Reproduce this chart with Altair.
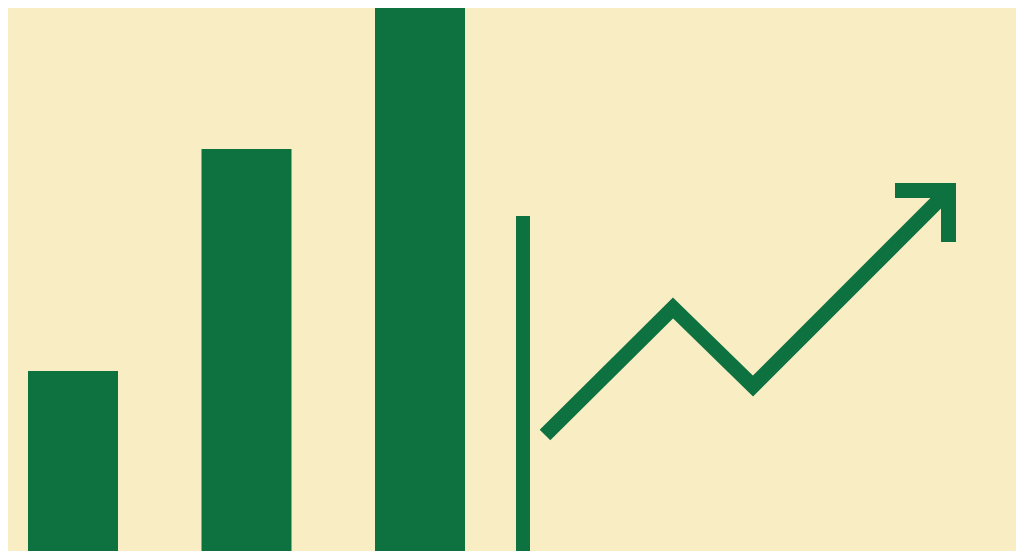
import altair as alt
import pandas as pd

# ---- data ----
bar_labels = ["Q1", "Q2", "Q3"]
bar_values = [188, 410, 580]

divider_x = [523]
divider_top = [343]

trend_x = [545, 673, 753, 948.5]
trend_y = [124, 251, 173, 368.5]

head_x = [895, 948.5, 948.5]
head_y = [368.5, 368.5, 317]

# ---- styling ----
GREEN = "#0D7140"
BG = "#F9EDC4"
W, H = 1008, 543
x_dom = [8, 1016]
y_dom = [551 - H, 551]

xs = alt.Scale(domain=x_dom, nice=False, zero=False)
ys = alt.Scale(domain=y_dom, nice=False, zero=False)

bars_df = pd.DataFrame({"label": bar_labels, "value": bar_values})
div_df = pd.DataFrame({"x": divider_x, "top": divider_top})
trend_df = pd.DataFrame({"x": trend_x, "y": trend_y, "i": range(len(trend_x))})
head_df = pd.DataFrame({"x": head_x, "y": head_y, "i": range(len(head_x))})

bars = alt.Chart(bars_df).mark_bar(color=GREEN, clip=True).encode(
    x=alt.X("label:N", sort=bar_labels, axis=None,
            scale=alt.Scale(domain=bar_labels, range=[20, 457],
                            paddingInner=0.4813, paddingOuter=0)),
    y=alt.Y("value:Q", scale=ys, axis=None),
    y2=alt.datum(0),
)

divider = alt.Chart(div_df).mark_rule(color=GREEN, strokeWidth=14, clip=True).encode(
    x=alt.X("x:Q", scale=xs, axis=None),
    y=alt.Y("top:Q", scale=ys, axis=None),
    y2=alt.datum(0),
)

trend = alt.Chart(trend_df).mark_line(
    color=GREEN, strokeWidth=15, strokeJoin="miter", strokeCap="butt", strokeMiterLimit=10
).encode(
    x=alt.X("x:Q", scale=xs, axis=None),
    y=alt.Y("y:Q", scale=ys, axis=None),
    order="i:Q",
)

head = alt.Chart(head_df).mark_line(
    color=GREEN, strokeWidth=15, strokeJoin="miter", strokeCap="butt", strokeMiterLimit=10
).encode(
    x=alt.X("x:Q", scale=xs, axis=None),
    y=alt.Y("y:Q", scale=ys, axis=None),
    order="i:Q",
)

chart = (
    alt.layer(bars, divider, trend, head)
    .resolve_scale(x="independent")
    .properties(width=W, height=H, padding=0, background=BG,
                autosize=alt.AutoSizeParams(type="none"))
    .configure_view(stroke=None)
)

chart.save("out.html", embed_options={"renderer": "svg", "actions": False})
